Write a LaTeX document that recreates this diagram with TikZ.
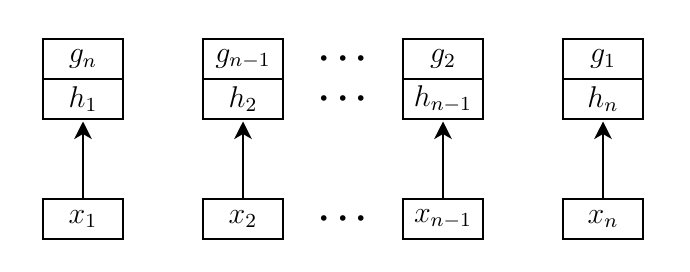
\documentclass[tikz,border=0pt]{standalone}
\usetikzlibrary{arrows.meta, positioning}

\begin{document}
\begin{tikzpicture}[x=0.4pt, y=-0.4pt,
    cell/.style={draw, line width=0.9pt, font=\large, minimum width=32pt, minimum height=16pt, inner sep=0pt, outer sep=0pt},
    dotsnode/.style={font=\Large\boldmath, inner sep=0pt},
    >={Stealth[length=7pt, width=7pt, inset=2pt]}]
    \useasboundingbox (0, 0) rectangle (690, 272);

    % 上面的 g / h 方块
    \node[cell] (g1) at (83, 59) {$g_n$};
    \node[cell, below=0pt of g1] (h1) {$h_1$};
    \node[cell] (g2) at (243, 59) {$g_{n-1}$};
    \node[cell, below=0pt of g2] (h2) {$h_2$};
    \node[cell] (g3) at (443, 59) {$g_2$};
    \node[cell, below=0pt of g3] (h3) {$h_{n-1}$};
    \node[cell] (g4) at (603, 59) {$g_1$};
    \node[cell, below=0pt of g4] (h4) {$h_n$};

    % 下面的输入 x
    \node[cell] (x1) at (83, 219) {$x_1$};
    \node[cell] (x2) at (243, 219) {$x_2$};
    \node[cell] (x3) at (443, 219) {$x_{n-1}$};
    \node[cell] (x4) at (603, 219) {$x_n$};

    % 省略号
    \node[dotsnode] (dg) at (343, 59) {$\cdots$};
    \node[dotsnode] (dh) at (343, 99) {$\cdots$};
    \node[dotsnode] (dx) at (343, 219) {$\cdots$};

    % 箭头
    \draw[->, line width=0.9pt, shorten >=1pt] (x1) -- (h1);
    \draw[->, line width=0.9pt, shorten >=1pt] (x2) -- (h2);
    \draw[->, line width=0.9pt, shorten >=1pt] (x3) -- (h3);
    \draw[->, line width=0.9pt, shorten >=1pt] (x4) -- (h4);
\end{tikzpicture}
\end{document}
